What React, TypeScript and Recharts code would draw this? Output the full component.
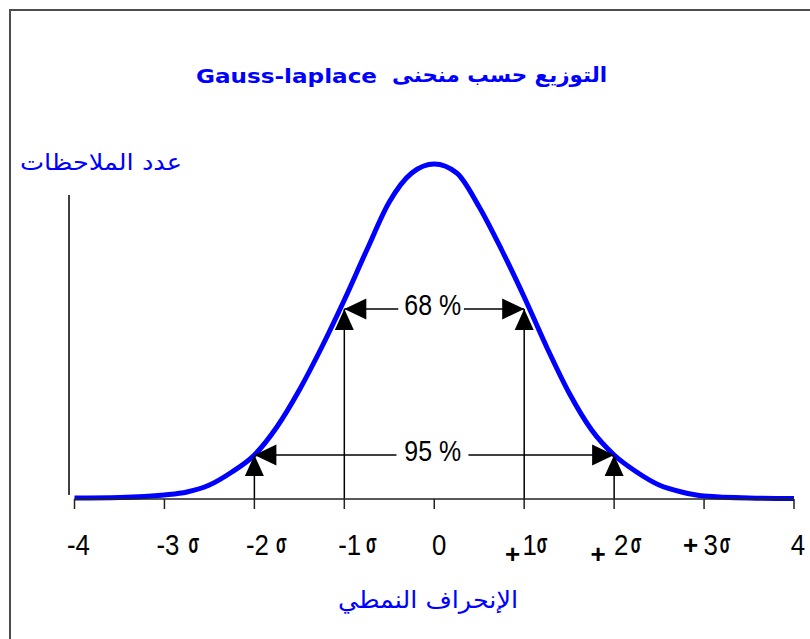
import React from 'react';
import { LineChart, Line, XAxis, YAxis, ReferenceLine, ReferenceDot } from 'recharts';

// ---- data ----
const X_VALUES = [-4, -3.5, -3, -2.75, -2.5, -2.25, -2, -1.75, -1.5, -1.25, -1, -0.75, -0.5, -0.25, 0, 0.25, 0.5, 0.75, 1, 1.25, 1.5, 1.75, 2, 2.25, 2.5, 2.75, 3, 3.5, 4];
const COUNTS = [1, 1.5, 4, 7, 14, 27, 44, 72, 109, 152, 199, 249, 297, 326, 335, 326, 292, 249, 202, 152, 106, 69, 44, 27, 14, 7, 3, 1, 0.5];

const X_TICKS = [-4, -3, -2, -1, 0, 1, 2, 3, 4];
const TICK_LABELS = ['-4', '-3 σ', '-2 σ', '-1 σ', '0', '+1σ', '+ 2σ', '+3σ', '4'];

const TITLE_LATIN = 'Gauss-laplace';
const TITLE_ARABIC = 'التوزيع حسب منحنى';
const Y_LABEL = 'عدد الملاحظات';
const X_LABEL = 'الإنحراف النمطي';

// annotation arrows: label, left/right sigma, level (count units), text gap edges
const ANN_LABELS = ['68 %', '95 %'];
const ANN_LEFT = [-1, -2];
const ANN_RIGHT = [1, 2];
const ANN_LEVEL = [190, 44];
const ANN_GAP_LEFT = [-0.4, -0.42];
const ANN_GAP_RIGHT = [0.33, 0.38];

// the detached vertical axis stroke (count range and position in sigma units)
const Y_AXIS_X = -4.061;
const Y_AXIS_RANGE = [4, 304];

const data = X_VALUES.map((x, i) => ({ x, count: COUNTS[i] }));

const NUM_FONT = "'Liberation Sans', Arial, sans-serif";
const AR_FONT = "'DejaVu Sans', 'Noto Sans', sans-serif";
const BLUE = '#0000ff';

type TxtProps = { x: number; y: number; size: number; sx?: number; bold?: boolean; anchor?: string; children: React.ReactNode };
function Txt({ x, y, size, sx = 0.86, bold = false, anchor = 'middle', children }: TxtProps) {
  return (
    <text
      transform={`translate(${x},${y}) scale(${sx},1)`}
      fontSize={size}
      fontFamily={NUM_FONT}
      fontWeight={bold ? 700 : 400}
      textAnchor={anchor as any}
      fill="#000"
    >
      {children}
    </text>
  );
}

// per-tick offsets (layout only)
const NUM_DX = [4, 3.5, 3, 5.4, 5, 5.5, 7, 6.5, 4];
const SIG_DX = [0, 29.5, 27, 27, 0, 18, 22, 21, 0];
const PLUS_DX = [0, 0, 0, 0, 0, -11.5, -16, -13.5, 0];
const PLUS_BASE = [0, 0, 0, 0, 0, 64, 64, 55, 0];

function renderTick(props: any) {
  const { x, payload, index } = props;
  const axisY = props.y - 10;
  const idx = typeof index === 'number' ? index : X_TICKS.indexOf(payload.value);
  const label = TICK_LABELS[idx] ?? String(payload.value);
  const hasPlus = label.startsWith('+');
  const hasSigma = label.includes('σ');
  const num = label.replace(/[+σ\s]/g, '');
  return (
    <g>
      <Txt x={x + NUM_DX[idx]} y={axisY + 56} size={30}>{num}</Txt>
      {hasSigma && (
        <Txt x={x + SIG_DX[idx]} y={axisY + 54} size={27} sx={0.58} bold>σ</Txt>
      )}
      {hasPlus && (
        <Txt x={x + PLUS_DX[idx]} y={axisY + PLUS_BASE[idx]} size={26} sx={1} bold>+</Txt>
      )}
    </g>
  );
}

const headLeft = (p: any) => (
  <polygon points={`${p.cx},${p.cy} ${p.cx + 22},${p.cy - 10.5} ${p.cx + 22},${p.cy + 10.5}`} fill="#000" />
);
const headRight = (p: any) => (
  <polygon points={`${p.cx},${p.cy} ${p.cx - 22},${p.cy - 10.5} ${p.cx - 22},${p.cy + 10.5}`} fill="#000" />
);
const headUp = (p: any) => (
  <polygon points={`${p.cx},${p.cy} ${p.cx - 9.5},${p.cy + 21} ${p.cx + 9.5},${p.cy + 21}`} fill="#000" />
);
const makeLabel = (text: string) => (p: any) => (
  <Txt x={p.cx - 1.5} y={p.cy + 6} size={29}>{text}</Txt>
);

export default function App() {
  const lineStyle = { stroke: '#000', strokeWidth: 1.5 };
  return (
    <div style={{ position: 'absolute', left: 0, top: 0, width: 810, height: 639, background: '#fff' }}>
      <LineChart
        width={810}
        height={639}
        data={data}
        margin={{ top: 159, right: 16, bottom: 80, left: 74.5 }}
      >
        <XAxis
          type="number"
          dataKey="x"
          domain={[-4, 4]}
          ticks={X_TICKS}
          interval={0}
          tickSize={10}
          tickMargin={0}
          height={60}
          axisLine={{ stroke: '#222', strokeWidth: 1.5 }}
          tickLine={{ stroke: '#222', strokeWidth: 1.5 }}
          tick={renderTick}
        />
        <YAxis type="number" domain={[0, 340]} hide />
        <ReferenceLine
          segment={[{ x: Y_AXIS_X, y: Y_AXIS_RANGE[0] }, { x: Y_AXIS_X, y: Y_AXIS_RANGE[1] }]}
          ifOverflow="visible"
          {...lineStyle}
        />
        {ANN_LABELS.map((lab, i) => (
          <React.Fragment key={lab}>
            <ReferenceLine segment={[{ x: ANN_LEFT[i], y: 0 }, { x: ANN_LEFT[i], y: ANN_LEVEL[i] }]} ifOverflow="visible" {...lineStyle} />
            <ReferenceLine segment={[{ x: ANN_RIGHT[i], y: 0 }, { x: ANN_RIGHT[i], y: ANN_LEVEL[i] }]} ifOverflow="visible" {...lineStyle} />
            <ReferenceLine segment={[{ x: ANN_LEFT[i], y: ANN_LEVEL[i] }, { x: ANN_GAP_LEFT[i], y: ANN_LEVEL[i] }]} ifOverflow="visible" {...lineStyle} />
            <ReferenceLine segment={[{ x: ANN_GAP_RIGHT[i], y: ANN_LEVEL[i] }, { x: ANN_RIGHT[i], y: ANN_LEVEL[i] }]} ifOverflow="visible" {...lineStyle} />
          </React.Fragment>
        ))}
        <Line
          type="monotone"
          dataKey="count"
          stroke={BLUE}
          strokeWidth={5}
          dot={false}
          activeDot={false}
          isAnimationActive={false}
        />
        {ANN_LABELS.map((lab, i) => (
          <React.Fragment key={'h' + lab}>
            <ReferenceDot x={ANN_LEFT[i]} y={ANN_LEVEL[i]} ifOverflow="visible" shape={headLeft} />
            <ReferenceDot x={ANN_RIGHT[i]} y={ANN_LEVEL[i]} ifOverflow="visible" shape={headRight} />
            <ReferenceDot x={ANN_LEFT[i]} y={ANN_LEVEL[i]} ifOverflow="visible" shape={headUp} />
            <ReferenceDot x={ANN_RIGHT[i]} y={ANN_LEVEL[i]} ifOverflow="visible" shape={headUp} />
            <ReferenceDot x={0} y={ANN_LEVEL[i]} ifOverflow="visible" shape={makeLabel(lab)} />
          </React.Fragment>
        ))}
      </LineChart>
      <svg width={810} height={639} style={{ position: 'absolute', left: 0, top: 0, pointerEvents: 'none' }}>
        <line x1={10} y1={9} x2={10} y2={639} stroke="#4d4d4d" strokeWidth={2} />
        <line x1={9} y1={10} x2={810} y2={10} stroke="#4d4d4d" strokeWidth={2} />
        <text x={196} y={83} fontFamily={AR_FONT} fontWeight={700} fontSize={20} fill={BLUE}
          textLength={181} lengthAdjust="spacingAndGlyphs">{TITLE_LATIN}</text>
        <text x={607} y={82} textAnchor="end" fontFamily={AR_FONT} fontWeight={700} fontSize={21} fill={BLUE}
          textLength={215} lengthAdjust="spacingAndGlyphs">{TITLE_ARABIC}</text>
        <text x={182} y={170} textAnchor="end" fontFamily={AR_FONT} fontSize={23} fill={BLUE}
          textLength={162} lengthAdjust="spacingAndGlyphs">{Y_LABEL}</text>
        <text x={518} y={608} textAnchor="end" fontFamily={AR_FONT} fontSize={24} fill={BLUE}
          textLength={180} lengthAdjust="spacingAndGlyphs">{X_LABEL}</text>
      </svg>
    </div>
  );
}
